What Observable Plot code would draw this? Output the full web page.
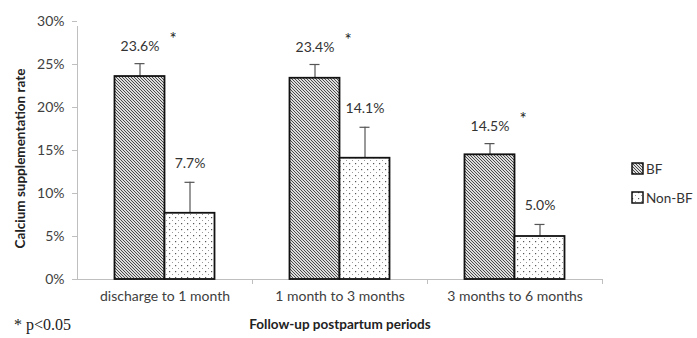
<!DOCTYPE html>
<html><head><meta charset="utf-8">
<script src="https://cdn.jsdelivr.net/npm/d3@7"></script>
<script src="https://cdn.jsdelivr.net/npm/@observablehq/plot@0.6"></script>
<style>
body{margin:0;background:#fff;}
#wrap{position:relative;width:697px;height:338px;font-family:Lato,"Open Sans",sans-serif;}
#legend{position:absolute;left:631px;top:154px;font-size:13.5px;color:#333;}
#legend div{display:flex;align-items:center;height:29px;}
#legend svg{margin-right:2px;}
#note{position:absolute;left:14px;top:316px;font-family:"Liberation Serif","DejaVu Serif",serif;font-size:16px;color:#222;}
#xtitle{position:absolute;left:0;width:680px;text-align:center;top:316px;font-weight:bold;font-size:13.5px;color:#222;}
</style></head><body><div id="wrap"></div>
<script>
const periods = ["discharge to 1 month", "1 month to 3 months", "3 months to 6 months"];
const series = ["BF", "Non-BF"];
const bfValues = [23.6, 23.4, 14.5];
const bfUpperErr = [1.5, 1.6, 1.3];
const nonBfValues = [7.7, 14.1, 5.0];
const nonBfUpperErr = [3.6, 3.6, 1.4];
const significant = [true, true, true];
const yTicks = [0, 5, 10, 15, 20, 25, 30];

const bf = periods.map((p, i) => ({period: p, value: bfValues[i], top: bfValues[i] + bfUpperErr[i]}));
const nonBf = periods.map((p, i) => ({period: p, value: nonBfValues[i], top: nonBfValues[i] + nonBfUpperErr[i]}));
const sig = bf.filter((d, i) => significant[i]);

const W = 697, H = 338, mL = 77, mR = 95, mT = 21, mB = 59;
const band = (W - mL - mR) / periods.length; // 175
const half = band / 2;
const barW = 50;

const axisColor = "#bfbfbf";
const textColor = "#404040";
const fmt = v => v.toFixed(1) + "%";

const chart = Plot.plot({
  width: W, height: H,
  marginLeft: mL, marginRight: mR, marginTop: mT, marginBottom: mB,
  style: {fontFamily: "Lato, 'Open Sans', sans-serif", fontSize: "14px", color: textColor, background: "#fff"},
  x: {domain: periods, padding: 0, label: null},
  y: {domain: [0, 30], ticks: yTicks, tickFormat: d => d + "%", label: null},
  marks: [
    Plot.axisY({ticks: yTicks, tickFormat: d => d + "%", tickSize: 5, tickPadding: 8, stroke: axisColor, fontSize: 14, color: textColor}),
    Plot.axisX({tickSize: 0, tickPadding: 12, fontSize: 14}),
    // y axis line
    Plot.ruleX([periods[0]], {x: d => d, y1: 0, y2: 30, dx: -half, stroke: axisColor, insetBottom: -5}),
    // x axis line
    Plot.ruleY([0], {stroke: axisColor}),
    // category boundary ticks
    Plot.ruleX(periods.slice(1), {x: d => d, y1: 0, y2: 0, dx: -half, stroke: axisColor, insetBottom: -5}),
    Plot.ruleX([periods[periods.length - 1]], {x: d => d, y1: 0, y2: 0, dx: half, stroke: axisColor, insetBottom: -5}),
    // error bars
    Plot.ruleX(bf, {x: "period", y1: "value", y2: "top", dx: -barW / 2, stroke: "#555", strokeWidth: 1.2}),
    Plot.ruleX(nonBf, {x: "period", y1: "value", y2: "top", dx: barW / 2, stroke: "#555", strokeWidth: 1.2}),
    Plot.tickY(bf, {x: "period", y: "top", insetLeft: half - barW / 2 - 5, insetRight: half + barW / 2 - 5, stroke: "#555", strokeWidth: 1.2}),
    Plot.tickY(nonBf, {x: "period", y: "top", insetLeft: half + barW / 2 - 5, insetRight: half - barW / 2 - 5, stroke: "#555", strokeWidth: 1.2}),
    // bars
    Plot.barY(bf, {x: "period", y: "value", insetLeft: half - barW, insetRight: half, fill: "url(#hatchBF)", stroke: "#111", strokeWidth: 1.8}),
    Plot.barY(nonBf, {x: "period", y: "value", insetLeft: half, insetRight: half - barW, fill: "url(#dotsNonBF)", stroke: "#111", strokeWidth: 1.8}),
    // value labels
    Plot.text(bf, {x: "period", y: "top", text: d => fmt(d.value), dx: -barW / 2, dy: -17, fontSize: 14, fill: "#333"}),
    Plot.text(nonBf, {x: "period", y: "top", text: d => fmt(d.value), dx: barW / 2, dy: -19, fontSize: 14, fill: "#333"}),
    // significance asterisks
    Plot.text(sig, {x: "period", y: "top", text: () => "*", dx: 8, dy: -24, fontSize: 17, fill: "#222"}),
    // y title
    Plot.text(["Calcium supplementation rate"], {frameAnchor: "left", textAnchor: "middle", rotate: -90, dx: -57, dy: 8, fontWeight: "bold", fontSize: 13.5, fill: "#222", text: d => d})
  ]
});

// pattern definitions
const ns = "http://www.w3.org/2000/svg";
const defs = document.createElementNS(ns, "defs");
defs.innerHTML = `
<pattern id="hatchBF" patternUnits="userSpaceOnUse" width="3" height="3">
  <rect width="3" height="3" fill="#dcdcdc"/>
  <rect x="0" y="0" width="1" height="1" fill="#4a4a4a" shape-rendering="crispEdges"/>
  <rect x="1" y="1" width="1" height="1" fill="#4a4a4a" shape-rendering="crispEdges"/>
  <rect x="2" y="2" width="1" height="1" fill="#4a4a4a" shape-rendering="crispEdges"/>
</pattern>
<pattern id="dotsNonBF" patternUnits="userSpaceOnUse" width="6" height="6">
  <rect width="6" height="6" fill="#fff"/>
  <rect x="1" y="1" width="1.2" height="1.2" fill="#555"/>
  <rect x="4" y="4" width="1" height="1" fill="#999"/>
</pattern>`;
chart.insertBefore(defs, chart.firstChild);

const wrap = document.getElementById("wrap");
wrap.appendChild(chart);

// legend
const legend = document.createElement("div");
legend.id = "legend";
legend.innerHTML = series.map((s, i) =>
  `<div><svg width="13" height="13"><rect x="1" y="1" width="11" height="11" fill="url(#${i === 0 ? "hatchBF" : "dotsNonBF"})" stroke="#111" stroke-width="1.5"/></svg><span>${s}</span></div>`
).join("");
wrap.appendChild(legend);

const xt = document.createElement("div");
xt.id = "xtitle";
xt.textContent = "Follow-up postpartum periods";
wrap.appendChild(xt);

const note = document.createElement("div");
note.id = "note";
note.textContent = "* p<0.05";
wrap.appendChild(note);
</script></body></html>
